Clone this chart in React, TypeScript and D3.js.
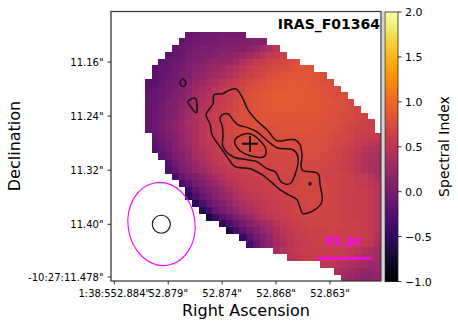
import React from "react";
import * as d3 from "d3";

// Spectral index map, values x100, one list per image row (row index = position + 3)
const rowStarts = [11,10,9,8,7,6,6,5,5,5,5,5,5,5,5,6,6,6,7,8,8,9,10,11,11,12,13,14,16,17,19,20,24,26,31,33,34];
const rows: number[][] = [
  [-10,-10,-6,-6,-6,-2,-2,-2,-2],
  [-15,-10,-6,-6,-2,-2,2,2,2,6,6,10,10],
  [-15,-10,-6,-2,2,2,6,6,10,10,10,15,20,30,38,51],
  [-20,-15,-10,-2,2,6,6,10,15,15,20,25,30,38,47,55,59,64],
  [-20,-15,-10,-6,2,6,10,15,20,20,25,30,38,47,55,59,64,67,70,73,76],
  [-20,-15,-15,-6,-2,6,10,15,20,25,30,34,43,51,58,62,67,70,73,76,78,81,81,81],
  [-20,-15,-10,-6,2,6,15,20,25,30,34,43,51,58,62,67,70,76,78,81,83,83,83,83,81,78],
  [-20,-20,-15,-6,-2,6,10,20,25,34,38,47,55,59,64,70,73,78,81,83,83,86,86,86,83,81,78,76],
  [-20,-15,-10,-6,2,10,15,25,34,38,47,55,59,64,70,73,78,81,83,86,86,88,86,86,83,83,81,78,76],
  [-15,-15,-10,-2,6,10,20,30,38,43,51,58,62,67,73,76,81,83,86,88,88,88,88,86,86,83,81,78,76,76],
  [-15,-15,-6,2,6,15,25,34,43,47,55,59,64,70,76,78,81,83,86,88,88,88,86,86,86,83,81,81,78,76,73],
  [-15,-10,-6,2,10,20,30,34,43,51,58,62,67,70,76,78,81,83,86,86,86,86,86,86,83,83,81,78,78,76,73,70],
  [-15,-10,-2,6,10,20,30,38,47,55,59,64,67,73,76,78,81,83,83,83,83,83,83,83,83,81,81,78,76,73,73,70,67],
  [-15,-10,-2,6,15,25,34,38,47,55,59,64,70,73,76,78,81,81,81,81,81,81,81,81,81,81,78,78,76,73,70,67,64,62],
  [-15,-10,-2,6,15,25,30,38,47,55,59,64,70,73,76,78,78,78,78,78,81,81,81,81,81,78,78,76,73,70,67,64,62,59],
  [-15,-6,2,10,20,30,38,47,55,59,64,67,73,76,76,76,76,76,76,78,78,78,78,78,78,76,73,70,70,67,62,59,58,55],
  [-20,-10,-2,10,20,30,38,47,55,59,62,67,70,73,76,76,73,73,76,76,76,76,78,78,76,76,73,70,67,64,59,55,51,47],
  [-25,-15,-6,6,15,25,34,43,51,58,62,64,70,73,73,73,73,73,73,73,73,76,76,76,76,73,70,67,64,59,55,47,43,43],
  [-20,-10,2,10,20,30,38,47,55,59,62,67,70,70,70,70,70,70,70,73,73,73,73,73,70,70,67,62,58,51,43,38,38],
  [-25,-6,6,15,25,34,43,51,58,59,64,67,67,70,70,70,70,70,70,70,70,70,70,70,67,67,62,58,51,43,38,34],
  [-30,-15,2,10,20,30,38,47,51,58,59,62,64,67,67,67,70,70,70,70,70,70,70,67,67,64,62,58,51,43,38,34],
  [-30,-15,-2,6,15,25,34,43,51,55,58,59,62,64,67,67,67,67,67,70,70,70,67,67,67,64,62,58,55,47,38],
  [-36,-20,-6,2,15,25,34,43,47,55,58,59,62,64,67,67,67,67,70,70,70,70,67,67,64,62,58,55,51,43],
  [-42,-20,-6,6,15,25,34,43,51,55,58,59,62,64,67,67,70,70,70,70,70,67,67,64,62,59,58,55,47],
  [-55,-30,-15,-2,10,20,30,38,47,51,55,58,59,62,64,67,67,70,70,70,70,67,67,64,62,59,58,55,47],
  [-55,-30,-15,-2,6,20,30,38,43,51,55,58,59,62,64,67,67,70,70,70,67,67,64,62,59,58,55,47],
  [-55,-36,-15,-2,10,20,30,38,43,51,55,59,62,64,67,67,70,70,67,67,67,64,62,59,58,55,47],
  [-70,-42,-25,-10,2,15,25,34,43,51,55,59,62,64,67,67,67,67,67,67,64,62,59,58,55,47],
  [-55,-30,-15,-2,10,20,30,38,47,55,58,62,64,67,67,67,67,67,64,64,62,59,55,47],
  [-62,-36,-20,-6,6,20,30,38,47,55,59,62,64,64,64,67,64,64,64,62,58,55,47],
  [-48,-25,-6,6,20,34,43,51,58,59,62,64,64,64,64,62,62,59,58,55,43],
  [-36,-15,6,15,30,38,47,55,58,59,62,62,62,62,62,59,58,55,51,38],
  [34,43,51,55,58,59,59,59,59,59,58,55,51,43,34,30],
  [47,51,55,58,58,58,58,58,58,51,43,38,34,30],
  [51,51,47,43,38,34,30,25,25],
  [38,34,30,25,20,20,20],
  [30,25,20,15,15,20],
];
const firstRow = 3;
const gridSize = 40;

// Contours in map units (1 unit = 1/270 of the map width)
const contourOuter: [number, number][] = [[95,103.5],[102,92.5],[103,83.5],[111,82.5],[119,78.5],[125,77.5],[131,85.5],[137,98.5],[146,109.5],[156,118.5],[166,129.5],[177,128.5],[184,128.5],[189,133.5],[191,143.5],[191,158.5],[207,162.5],[209,173.5],[211,190.5],[204,198.5],[192,202.5],[189,196.5],[186,188.5],[177,183.5],[169,178.5],[161,171.5],[151,163.5],[139,157.5],[124,155.5],[116,145.5],[109,135.5],[101,123.5],[99,112.5]];
const contourMiddle: [number, number][] = [[109,108.5],[111,103.5],[117,102.5],[122,108.5],[127,113.5],[137,116.5],[146,120.5],[154,127.5],[166,136.5],[182,138.5],[187,145.5],[184,163.5],[179,172.5],[171,171.5],[164,160.5],[156,157.5],[146,150.5],[136,148.5],[122,145.5],[112,135.5],[112,123.5],[111,113.5]];
const contourInner: [number, number][] = [[124,128.5],[131,123.5],[139,122.5],[147,127.5],[155,138.5],[153,145.5],[139,144.5],[129,139.5],[124,132.5]];
const contourDot: [number, number][] = [[197.8,172.5],[199,171.3],[200.2,172.5],[199,173.7]];
const contourDiamond: [number, number][] = [[71.7,67.5],[75,71.8],[71.7,75.2],[69,71.2]];
const contourWedge: [number, number][] = [[77,90.2],[84,86.8],[86,93.5],[85,101.5],[80.7,96.8]];
const contours = [contourOuter, contourMiddle, contourInner, contourDot, contourDiamond, contourWedge];
const nucleus: [number, number] = [139, 132.5];

const raTicks = [52.884, 52.879, 52.874, 52.868, 52.863];
const raLabels = ['1:38:552.884"', '52.879"', '52.874"', '52.868"', '52.863"'];
const raSlots = [0, 1, 2, 3, 4];
const decTicks = [11.16, 11.24, 11.32, 11.4, 11.478];
const decLabels = ['11.16"', '11.24"', '11.32"', '11.40"', '-10:27:11.478"'];
const cbTicks = [2.0, 1.5, 1.0, 0.5, 0.0, -0.5, -1.0];

const FONT = "'DejaVu Sans', sans-serif";
const L = 111, R = 381, T = 11.5, B = 281;
const CL = 385, CR = 398, CT = 12, CB = 281.5;

export default function App() {
  const col = d3.scaleLinear().domain([0, gridSize]).range([L, R]);
  const row = d3.scaleLinear().domain([0, gridSize]).range([T, B]);
  const ux = d3.scaleLinear().domain([0, 270]).range([L, R]);
  const uy = d3.scaleLinear().domain([0, 270]).range([T, B]);
  const colour = d3.scaleSequential(d3.interpolateInferno).domain([-1, 2]);
  const raX = d3.scaleLinear().domain([0, 4]).range([114.3, 330]);
  const decY = d3.scaleLinear().domain([11.16, 11.4]).range([62, 224.3]);
  const cbY = d3.scaleLinear().domain([2, -1]).range([CT, CB]);
  const line = d3.line().x((d: any) => ux(d[0])).y((d: any) => uy(d[1])).curve(d3.curveCatmullRomClosed.alpha(0.5));
  const cbSteps = d3.range(CT, CB, 1);

  return (
    <svg width={458} height={326} style={{ position: "absolute", left: 0, top: 0, background: "#fff" }} fontFamily={FONT}>
      <g shapeRendering="crispEdges">
        {rows.map((vals, r) =>
          vals.map((v, k) => {
            const j = rowStarts[r] + k;
            const i = r + firstRow;
            return (
              <rect key={`${r}-${k}`} x={col(j)} y={row(i)} width={col(j + 1) - col(j) + 0.3} height={row(i + 1) - row(i) + 0.3} fill={colour(v / 100)} />
            );
          })
        )}
      </g>

      <g fill="none" stroke="#1a1016" strokeWidth={1.5} strokeLinejoin="round">
        {contours.map((c, i) => <path key={i} d={line(c as any) as string} />)}
      </g>
      <g stroke="#111" strokeWidth={2}>
        <line x1={ux(nucleus[0]) - 8} x2={ux(nucleus[0]) + 8} y1={uy(nucleus[1])} y2={uy(nucleus[1])} />
        <line x1={ux(nucleus[0])} x2={ux(nucleus[0])} y1={uy(nucleus[1]) - 8} y2={uy(nucleus[1]) + 8} />
      </g>

      <ellipse cx={161.5} cy={224} rx={33.5} ry={41.7} fill="none" stroke="#ff00ff" strokeWidth={1.1} transform="rotate(-8 161.5 224)" />
      <circle cx={161.3} cy={224.3} r={9} fill="none" stroke="#111" strokeWidth={1.1} />
      <line x1={317.3} x2={371} y1={258.3} y2={258.3} stroke="#ff00ff" strokeWidth={2.5} />
      <text x={344} y={245} fontSize={12} fontWeight="bold" fill="#ff00ff" textAnchor="middle">81 pc</text>
      <text x={380} y={29} fontSize={14} fontWeight="bold" fill="#000" textAnchor="end">IRAS_F01364</text>

      <rect x={L} y={T} width={R - L} height={B - T} fill="none" stroke="#333" strokeWidth={1.2} />
      <line x1={L - 0.4} x2={L - 0.4} y1={T} y2={B} stroke="#777" strokeWidth={1} />
      <line x1={R + 2} x2={R + 2} y1={T} y2={B} stroke="#aaa" strokeWidth={1} />

      {raSlots.map((s, i) => (
        <g key={raTicks[i]}>
          <line x1={raX(s)} x2={raX(s)} y1={B} y2={B + 3.5} stroke="#000" strokeWidth={0.8} />
          <text x={raX(s)} y={296.5} fontSize={10} textAnchor="middle" fill="#000">{raLabels[i]}</text>
        </g>
      ))}
      {decTicks.map((d, i) => (
        <g key={d}>
          <line x1={L - 3.5} x2={L} y1={decY(d)} y2={decY(d)} stroke="#000" strokeWidth={0.8} />
          <text x={103.5} y={decY(d) + 3.6} fontSize={10} textAnchor="end" fill="#000">{decLabels[i]}</text>
        </g>
      ))}

      <g shapeRendering="crispEdges">
        {cbSteps.map((y) => (
          <rect key={y} x={CL} y={y} width={CR - CL} height={1.3} fill={colour(cbY.invert(y + 0.5))} />
        ))}
      </g>
      <rect x={CL} y={CT} width={CR - CL} height={CB - CT} fill="none" stroke="#222" strokeWidth={0.8} />
      {cbTicks.map((t) => (
        <g key={t}>
          <line x1={CR} x2={CR + 3.5} y1={cbY(t)} y2={cbY(t)} stroke="#000" strokeWidth={0.8} />
          <text x={405} y={cbY(t) + 4} fontSize={11} fill="#000">{t < 0 ? `\u2212${Math.abs(t).toFixed(1)}` : t.toFixed(1)}</text>
        </g>
      ))}

      <text x={246} y={315.5} fontSize={16} textAnchor="middle" fill="#000">Right Ascension</text>
      <text transform="translate(20,146) rotate(-90)" fontSize={16} textAnchor="middle" fill="#000">Declination</text>
      <text transform="translate(448.5,146.5) rotate(-90)" fontSize={14} textAnchor="middle" fill="#000">Spectral Index</text>
    </svg>
  );
}
